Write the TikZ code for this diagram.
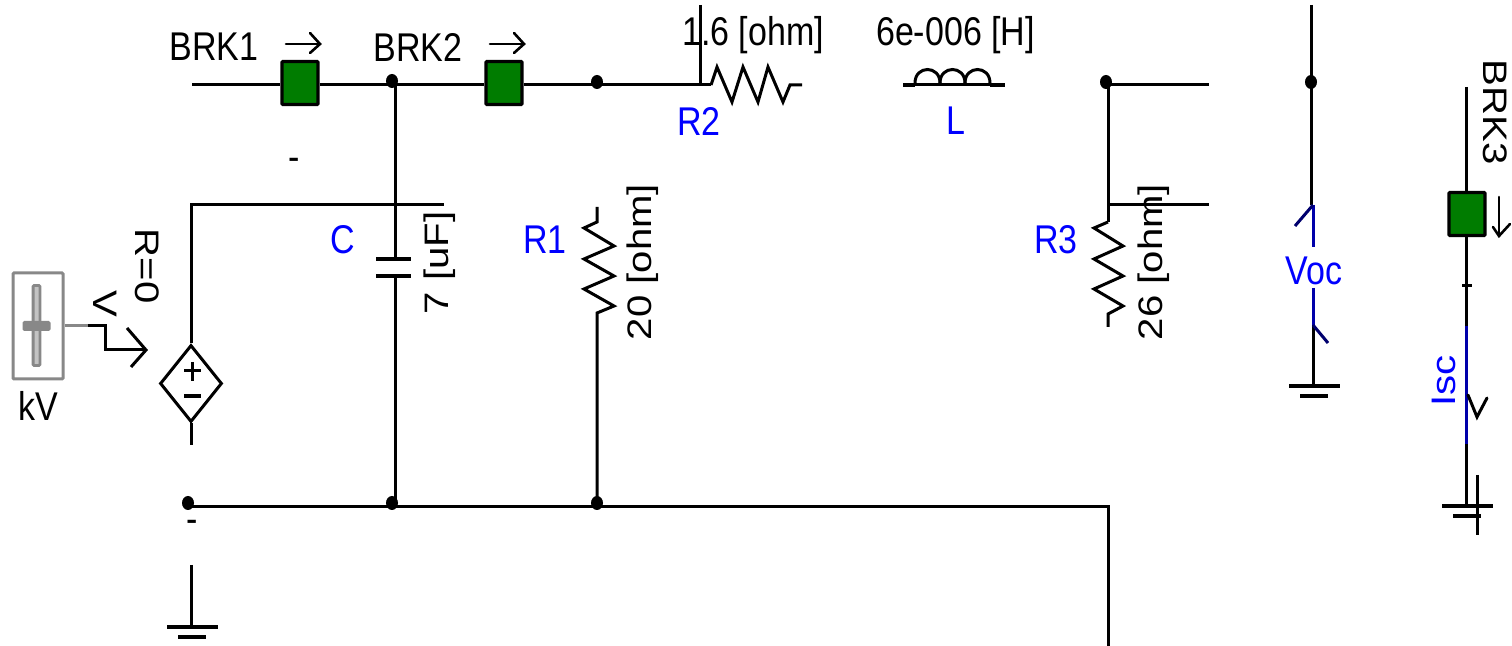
\documentclass[tikz,border=0pt]{standalone}
\usepackage{fontspec}
\usepackage{graphicx}
\usetikzlibrary{shapes.geometric}
\setmainfont{Liberation Sans}
\newcommand{\tallH}[1]{\scalebox{1}[1.18]{#1}}
\newcommand{\tallV}[1]{\scalebox{1.18}[1]{#1}}
\definecolor{brkgreen}{RGB}{0,124,0}
\definecolor{meterblue}{RGB}{0,0,170}
\definecolor{tickblue}{RGB}{0,0,110}
\definecolor{slidergray}{RGB}{136,136,136}
\definecolor{slotgray}{RGB}{195,195,195}
\definecolor{labelblue}{RGB}{0,0,255}
\tikzset{
  wire/.style={draw=black,line width=1.5pt,line join=miter},
  bluewire/.style={draw=meterblue,line width=1.5pt},
  tick/.style={draw=tickblue,line width=1.5pt},
  plate/.style={draw=black,line width=1.8pt},
  brkbox/.style={draw=black,fill=brkgreen,line width=1.7pt,rounded corners=0.5pt,minimum width=18pt,minimum height=21.5pt,inner sep=0pt},
  blk/.style={font=\fontsize{17}{17}\selectfont,text=black,inner sep=0pt},
  blu/.style={font=\fontsize{17}{17}\selectfont,text=labelblue,inner sep=0pt},
  junction/.style={ellipse,fill=black,inner sep=0pt,minimum width=6pt,minimum height=7pt},
  gray line/.style={draw=slidergray,line width=1.5pt},
  arrowline/.style={draw=black,line width=1.3pt,line cap=round,line join=miter},
}
\begin{document}
\begin{tikzpicture}[x=0.5pt,y=-0.5pt]
\useasboundingbox (0,0) rectangle (1512,646);
% named points
\coordinate (w0) at (192,85);
\coordinate (j1) at (395,85);
\coordinate (j2) at (597,85);
\coordinate (r2top) at (700,5);
\coordinate (r2l) at (700,85);
\coordinate (r2s) at (711,85);
\coordinate (r2e) at (790,85);
\coordinate (r2f) at (802,85);
\coordinate (l0) at (903,85);
\coordinate (l1) at (915,85);
\coordinate (l2) at (990,85);
\coordinate (l3) at (1005,85);
\coordinate (j3) at (1108,85);
\coordinate (o1) at (1209,85);
\coordinate (t1) at (1108,205);
\coordinate (o2) at (1209,205);
\coordinate (r3s) at (1108,222);
\coordinate (r3f) at (1108,327);
\coordinate (c1) at (395,205);
\coordinate (c2) at (444,205);
\coordinate (cu) at (395,259);
\coordinate (cd) at (395,276);
\coordinate (r1s) at (597,207);
\coordinate (r1e) at (597,313);
\coordinate (b0) at (188,507);
\coordinate (b1) at (395,507);
\coordinate (b2) at (597,507);
\coordinate (b3) at (1108,507);
\coordinate (b4) at (1108,646);
\coordinate (c0) at (190,205);
\coordinate (s0) at (191,445);
\coordinate (g1) at (191,565);
\coordinate (g1p) at (191,627);
\coordinate (v0) at (1311,5);
\coordinate (v1) at (1313,205);
\coordinate (v2) at (1313,247);
\coordinate (v3) at (1313,288);
\coordinate (v4) at (1313,325);
\coordinate (v5) at (1313,386);
\coordinate (k0) at (1466,87);
\coordinate (k1) at (1466,326);
\coordinate (k2) at (1466,444);
\coordinate (k3) at (1466,506);
% nodes
\node[brkbox] (brk1) at (300,83) {};
\node[brkbox] (brk2) at (504,83) {};
\node[brkbox] (brk3) at (1467,214) {};
\node[draw=black,line width=1.5pt,diamond,minimum width=31pt,minimum height=38.5pt,inner sep=0pt] (dep) at (191,383.5) {};
\node[draw=slidergray,fill=white,line width=1.5pt,rounded corners=0.5pt,minimum width=25pt,minimum height=53pt,inner sep=0pt] (slider) at (38,326) {};
\node[draw=slidergray,fill=slotgray,line width=1.4pt,rounded corners=0.5pt,minimum width=3.4pt,minimum height=40pt,inner sep=0pt] (slot) at (36.5,325.5) {};
\node[fill=slidergray,rounded corners=0.8pt,minimum width=14pt,minimum height=5pt,inner sep=0pt] (handle) at (36.5,326) {};
% wires
\draw[wire] (w0) -- (brk1.west |- w0);
\draw[wire] (brk1.east |- j1) -- (j1) -- (brk2.west |- j1);
\draw[wire] (brk2.east |- j2) -- (j2) -- (r2l) -- (r2s);
\draw[wire] (r2top) -- (r2l);
\draw[wire] (r2s) -- (717,67) -- (732,102) -- (743,67) -- (758,102) -- (768,67) -- (783,102) -- (r2e) -- (r2f);
\draw[wire,line width=2pt] (l0) -- (l1);
\draw[wire,line width=2pt] (l2) -- (l3);
\draw[wire] (l1) -- (l2);
\draw[wire] (915,83) .. controls (915,65) and (940,65) .. (940,83);
\draw[wire] (940,83) .. controls (940,65) and (965,65) .. (965,83);
\draw[wire] (965,83) .. controls (965,65) and (990,65) .. (990,83);
\draw[wire] (j3) -- (o1);
\draw[wire] (j3) -- (t1) -- (r3s);
\draw[wire] (t1) -- (o2);
\draw[wire] (r3s) -- (1094,228) -- (1123,246) -- (1094,259) -- (1123,276) -- (1094,289) -- (1123,306) -- (1108,314) -- (r3f);
\draw[wire] (dep.south) -- (s0);
\draw[wire] (dep.north) -- (dep.north |- c0) -- (c1) -- (c2);
\draw[wire] (j1) -- (c1) -- (cu);
\draw[plate] (376,259) -- (411,259);
\draw[plate] (376,276) -- (411,276);
\draw[wire] (cd) -- (b1);
\draw[wire] (r1s) -- (597,222) -- (584,228) -- (614,246) -- (584,259) -- (614,276) -- (584,289) -- (614,306) -- (r1e) -- (b2);
\draw[wire] (b0) -- (b1) -- (b2) -- (b3) -- (b4);
\draw[wire] (g1) -- (g1p);
\draw[plate] (167,627) -- (218,627);
\draw[plate] (178,637) -- (206,637);
% source polarity marks
\draw[wire] (184,371) -- (201,371);
\draw[wire] (192.5,362) -- (192.5,381);
\draw[wire,line width=1.9pt] (184,396) -- (201,396);
% slider link
\draw[gray line] (slider.east) -- (88,326);
\draw[wire] (88,326) -- (105,326) -- (105,350) -- (146,350);
\draw[wire] (127,328) -- (146,350) -- (131,367);
% Voc meter
\draw[wire] (v0) -- (1311,205);
\draw[bluewire] (v1) -- (v2);
\draw[bluewire] (v3) -- (v4);
\draw[wire] (v4) -- (v5);
\draw[tick] (v1) -- (1295,226);
\draw[tick] (v4) -- (1328,343);
\draw[plate] (1289,386) -- (1340,386);
\draw[plate] (1300,396) -- (1328,396);
% BRK3 branch
\draw[wire] (k0) -- (brk3.north -| k0);
\draw[wire] (brk3.south -| k1) -- (k1);
\draw[wire] (1462,286) -- (1472,286);
\draw[bluewire] (k1) -- (k2);
\draw[wire] (k2) -- (k3);
\draw[plate] (1442,506) -- (1493,506);
\draw[plate] (1453,516) -- (1481,516);
\draw[wire] (1477,475) -- (1477,535);
\draw[arrowline,line width=1.5pt] (1468,395) -- (1477,417) -- (1487,398);
% direction arrows
\draw[arrowline] (286,44) -- (320,44);
\draw[arrowline] (310,33) -- (320,44) -- (310,53);
\draw[arrowline] (490,44) -- (524,44);
\draw[arrowline] (514,33) -- (524,44) -- (514,53);
\draw[arrowline] (1499,197) -- (1499,236);
\draw[arrowline] (1493,227) -- (1499,236) -- (1510,224);
% junction dots
\node[junction] (d1) at (392,81) {};
\node[junction] (d2) at (597,82) {};
\node[junction] (d3) at (1106,82) {};
\node[junction] (d4) at (1311,82) {};
\node[junction] (d5) at (188,503) {};
\node[junction] (d6) at (392,503) {};
\node[junction] (d7) at (597,503) {};
% labels
\node[blk] (tb1) at (214,47) {\tallH{BRK1}};
\node[blk] (tb2) at (418,47) {\tallH{BRK2}};
\node[blk,rotate=-90] (tb3) at (1495,112) {\tallV{BRK3}};
\node[blk] (tr2) at (753,35) {\tallH{1.6 [ohm]}};
\node[blk] (tl) at (955.5,35) {\tallH{6e-006 [H]}};
\node[blu] (lr2) at (699,121) {\tallH{R2}};
\node[blu] (ll) at (956,121) {\tallH{L}};
\node[blu] (lc) at (343,240) {\tallH{C}};
\node[blu] (lr1) at (545,240) {\tallH{R1}};
\node[blu] (lr3) at (1056,240) {\tallH{R3}};
\node[blu] (lvoc) at (1314,271) {\tallH{Voc}};
\node[blu,rotate=90] (lisc) at (1444,381) {\tallV{Isc}};
\node[blk,rotate=90] (tc) at (440,263) {\tallV{7 [uF]}};
\node[blk,rotate=90] (tr1) at (643,262) {\tallV{20 [ohm]}};
\node[blk,rotate=90] (tr3) at (1154,262) {\tallV{26 [ohm]}};
\node[blk,rotate=-90] (tr0) at (147,266) {\tallV{R=0}};
\node[blk,rotate=-90] (tv) at (105,304) {\tallV{V}};
\node[blk] (tkv) at (38,406) {\tallH{kV}};
\node[blk] (tm1) at (294,164) {\tallH{-}};
\node[blk] (tm2) at (192,526) {\tallH{-}};
\end{tikzpicture}
\end{document}
